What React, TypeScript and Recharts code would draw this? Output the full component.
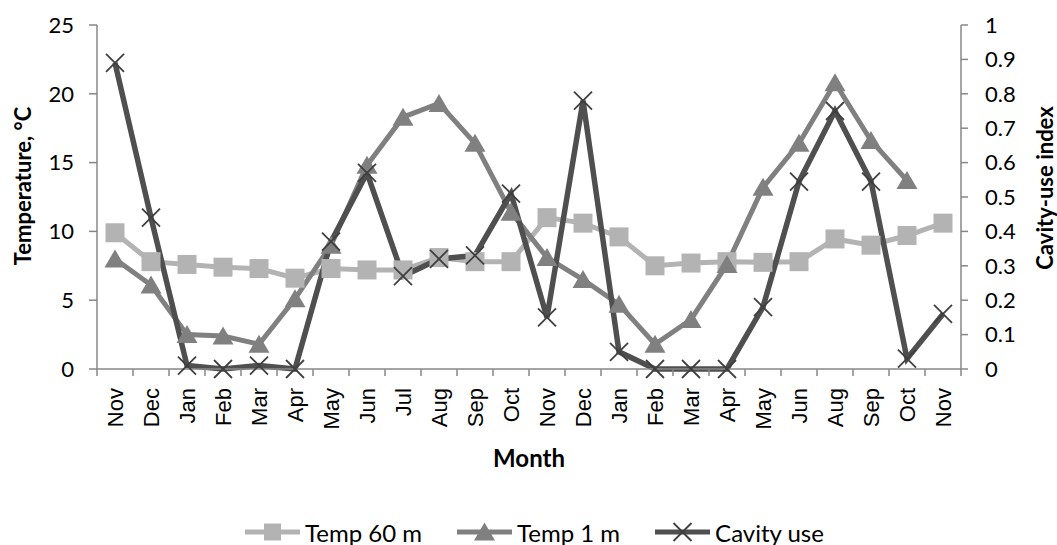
import React from "react";
import { ComposedChart, Line, XAxis, YAxis, Legend } from "recharts";

const MONTHS = ["Nov", "Dec", "Jan", "Feb", "Mar", "Apr", "May", "Jun", "Jul", "Aug", "Sep", "Oct", "Nov", "Dec", "Jan", "Feb", "Mar", "Apr", "May", "Jun", "Aug", "Sep", "Oct", "Nov"];
const TEMP_60 = [9.9, 7.8, 7.6, 7.4, 7.3, 6.6, 7.3, 7.2, 7.2, 8.1, 7.8, 7.8, 11.0, 10.6, 9.6, 7.5, 7.7, 7.8, 7.75, 7.8, 9.45, 9.0, 9.7, 10.6];
const TEMP_1 = [8.0, 6.1, 2.5, 2.4, 1.8, 5.1, 9.0, 14.8, 18.3, 19.3, 16.4, 11.4, 8.1, 6.5, 4.7, 1.8, 3.6, 7.6, 13.2, 16.4, 20.8, 16.6, 13.7, null];
const CAVITY = [0.89, 0.44, 0.01, 0, 0.01, 0, 0.37, 0.57, 0.27, 0.32, 0.33, 0.51, 0.15, 0.78, 0.05, 0, 0, 0, 0.18, 0.545, 0.75, 0.545, 0.03, 0.16];
const TEMP_TICKS = [0, 5, 10, 15, 20, 25];
const INDEX_TICKS = [0, 0.1, 0.2, 0.3, 0.4, 0.5, 0.6, 0.7, 0.8, 0.9, 1];

const data = MONTHS.map((m, i) => ({ idx: i, t60: TEMP_60[i], t1: TEMP_1[i], cav: CAVITY[i] }));

const C60 = "#b3b3b3";
const C1 = "#808080";
const CCAV = "#4f4f4f";
const AXIS = "#878787";
const NUM_FONT = "Lato, 'Open Sans', sans-serif";
const HALF = 18; // half a category band, for boundary tick marks

const Square = ({ cx, cy, size = 19 }: any) =>
  cx == null || cy == null ? null : <rect x={cx - size / 2} y={cy - size / 2} width={size} height={size} fill={C60} />;

const Triangle = ({ cx, cy }: any) =>
  cx == null || cy == null ? null : (
    <polygon points={`${cx},${cy - 9.5} ${cx + 10.5},${cy + 8.5} ${cx - 10.5},${cy + 8.5}`} fill={C1} />
  );

const Cross = ({ cx, cy }: any) =>
  cx == null || cy == null ? null : (
    <g stroke="#3f3f3f" strokeWidth={1.8}>
      <line x1={cx - 9} y1={cy - 9} x2={cx + 9} y2={cy + 9} />
      <line x1={cx - 9} y1={cy + 9} x2={cx + 9} y2={cy - 9} />
    </g>
  );

function MonthTick({ x, y, payload, index }: any) {
  const last = index === MONTHS.length - 1;
  return (
    <g>
      <line x1={x - HALF} y1={y} x2={x - HALF} y2={y + 7} stroke={AXIS} strokeWidth={1.5} />
      {last && <line x1={x + HALF} y1={y} x2={x + HALF} y2={y + 7} stroke={AXIS} strokeWidth={1.5} />}
      <text
        transform={`translate(${x},${y + 19}) rotate(-90)`}
        textAnchor="end"
        dy="0.36em"
        fontFamily="'Liberation Sans', Arial, sans-serif"
        fontSize={22}
        fill="#000"
      >
        {MONTHS[payload.value]}
      </text>
    </g>
  );
}

const SERIES = [
  { name: "Temp 60 m", color: C60, marker: "square" },
  { name: "Temp 1 m", color: C1, marker: "triangle" },
  { name: "Cavity use", color: CCAV, marker: "cross" },
];

function LegendContent() {
  return (
    <div style={{ height: 30, paddingTop: 4, paddingLeft: 12, boxSizing: "border-box", display: "flex", justifyContent: "center", alignItems: "center", fontFamily: NUM_FONT, fontSize: 24 }}>
      {SERIES.map((s, i) => (
        <div key={s.name} style={{ display: "flex", alignItems: "center", marginLeft: i ? 35 : 0 }}>
          <svg width={55} height={22}>
            <line x1={0} y1={11} x2={55} y2={11} stroke={s.color} strokeWidth={5} strokeLinecap="round" />
            {s.marker === "square" && <Square cx={27.5} cy={11} size={17} />}
            {s.marker === "triangle" && <Triangle cx={27.5} cy={11} />}
            {s.marker === "cross" && <Cross cx={27.5} cy={11} />}
          </svg>
          <span style={{ marginLeft: 5, color: "#000" }}>{s.name}</span>
        </div>
      ))}
    </div>
  );
}

export default function App() {
  return (
    <div style={{ position: "absolute", left: 0, top: 0, width: 1057, height: 545, background: "#fff" }}>
      <ComposedChart width={1057} height={545} data={data} margin={{ top: 25, right: 0, bottom: 0, left: 0 }}>
        <XAxis
          dataKey="idx"
          type="category"
          interval={0}
          padding={{ left: HALF, right: HALF }}
          height={146}
          tickSize={0}
          tickMargin={0}
          tickLine={false}
          axisLine={{ stroke: AXIS, strokeWidth: 1.5 }}
          tick={<MonthTick />}
          label={({ viewBox }: any) => (
            <text x={viewBox.x + viewBox.width / 2} y={467} textAnchor="middle" fontFamily={NUM_FONT} fontWeight="bold" fontSize={24} fill="#000">
              Month
            </text>
          )}
        />
        <YAxis
          yAxisId="t"
          orientation="left"
          width={97}
          domain={[0, 25]}
          ticks={TEMP_TICKS}
          interval={0}
          tickSize={8}
          tickMargin={15}
          axisLine={{ stroke: AXIS, strokeWidth: 1.5 }}
          tickLine={{ stroke: AXIS, strokeWidth: 1.5 }}
          tick={{ fill: "#000", fontSize: 22, fontFamily: NUM_FONT }}
          label={() => (
            <text transform="translate(23,186) rotate(-90)" textAnchor="middle" dy="0.36em" fontFamily={NUM_FONT} fontWeight="bold" fontSize={22} fill="#000">
              Temperature, °C
            </text>
          )}
        />
        <YAxis
          yAxisId="c"
          orientation="right"
          width={96}
          domain={[0, 1]}
          ticks={INDEX_TICKS}
          interval={0}
          tickSize={7}
          tickMargin={17}
          axisLine={{ stroke: AXIS, strokeWidth: 1.5 }}
          tickLine={{ stroke: AXIS, strokeWidth: 1.5 }}
          tick={{ fill: "#000", fontSize: 22, fontFamily: NUM_FONT }}
          label={() => (
            <text transform="translate(1045,188) rotate(-90)" textAnchor="middle" dy="0.36em" fontFamily={NUM_FONT} fontWeight="bold" fontSize={22} fill="#000">
              Cavity-use index
            </text>
          )}
        />
        <Legend verticalAlign="bottom" content={<LegendContent />} />
        <Line yAxisId="t" dataKey="t60" name="Temp 60 m" stroke={C60} strokeWidth={5} dot={<Square />} activeDot={false} isAnimationActive={false} />
        <Line yAxisId="t" dataKey="t1" name="Temp 1 m" stroke={C1} strokeWidth={5} dot={<Triangle />} activeDot={false} isAnimationActive={false} />
        <Line yAxisId="c" dataKey="cav" name="Cavity use" stroke={CCAV} strokeWidth={5.5} dot={<Cross />} activeDot={false} isAnimationActive={false} />
      </ComposedChart>
    </div>
  );
}
